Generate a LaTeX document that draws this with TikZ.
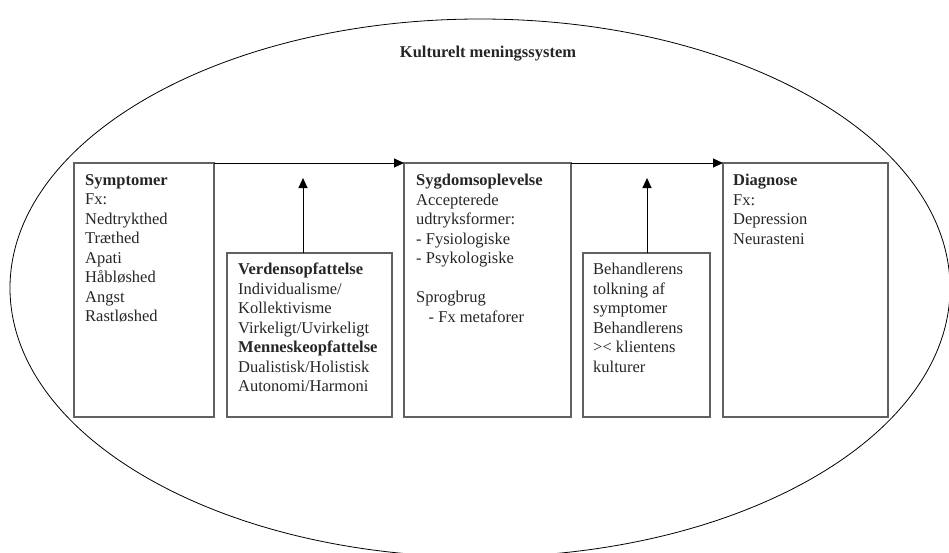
\documentclass[tikz,border=0pt]{standalone}
\usepackage{fontspec}
\setmainfont{Liberation Serif}
\usetikzlibrary{arrows.meta}
\tikzset{
  boxst/.style={draw=black!62, line width=1.2pt, rectangle, inner sep=0pt, outer sep=0pt},
  txt/.style={anchor=north west, align=left, inner sep=0pt, text=black!85,
    font=\fontsize{16.5}{19.5}\selectfont},
  arr/.style={draw=black, line width=1pt, -{Triangle[length=10pt,width=9pt]}},
  ring/.style={draw=black, line width=0.8pt}
}
\begin{document}
\begin{tikzpicture}[x=1pt,y=-1pt]
\useasboundingbox (0,0) rectangle (949,552);
\clip (0,0) rectangle (949,552);
\draw[ring] (480,288) ellipse [x radius=470pt, y radius=269pt];
\node[anchor=base, inner sep=0pt, text=black!85, font=\fontsize{16.5}{19.5}\selectfont\bfseries] (title) at (488,57) {Kulturelt meningssystem};
% boxes
\node[boxst, anchor=north west, minimum width=140pt, minimum height=254pt] (b1) at (74,163) {};
\node[boxst, anchor=north west, minimum width=165pt, minimum height=164pt] (b2) at (227,253) {};
\node[boxst, anchor=north west, minimum width=167pt, minimum height=254pt] (b3) at (404,163) {};
\node[boxst, anchor=north west, minimum width=127pt, minimum height=164pt] (b4) at (583,253) {};
\node[boxst, anchor=north west, minimum width=165pt, minimum height=254pt] (b5) at (723,163) {};
% texts
\node[txt] (t1) at (85,174) {\textbf{Symptomer}\\Fx:\\Nedtrykthed\\Træthed\\Apati\\Håbløshed\\Angst\\Rastløshed};
\node[txt] (t2) at (238,263) {\textbf{Verdensopfattelse}\\Individualisme/\\Kollektivisme\\Virkeligt/Uvirkeligt\\\textbf{Menneskeopfattelse}\\Dualistisk/Holistisk\\Autonomi/Harmoni};
\node[txt] (t3) at (416,174) {\textbf{Sygdomsoplevelse}\\Accepterede\\udtryksformer:\\- Fysiologiske\\- Psykologiske\\[19.5pt]Sprogbrug\\\hspace*{12.5pt}- Fx metaforer};
\node[txt] (t4) at (593,263) {Behandlerens\\tolkning af\\symptomer\\Behandlerens\\>< klientens\\kulturer};
\node[txt] (t5) at (733,174) {\textbf{Diagnose}\\Fx:\\Depression\\Neurasteni};
% arrows
\coordinate (u1) at (303,178);
\coordinate (u2) at (647,178);
\draw[arr] (b1.north east) -- (b3.north west);
\draw[arr] (b3.north east) -- (b5.north west);
\draw[arr] (b2.north -| u1) -- (u1);
\draw[arr] (b4.north -| u2) -- (u2);
\end{tikzpicture}
\end{document}
